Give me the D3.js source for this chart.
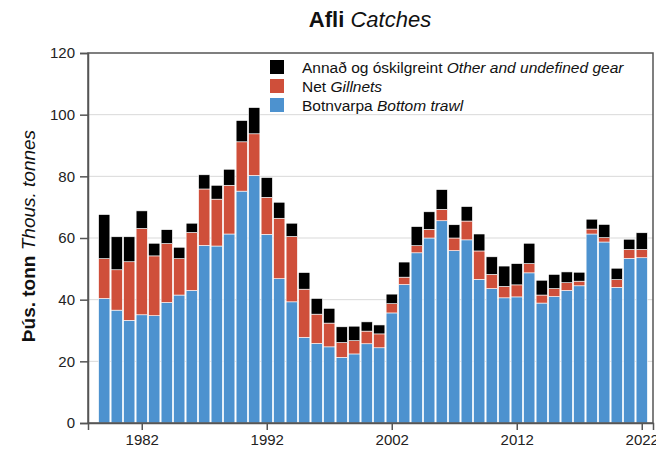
<!DOCTYPE html>
<html><head><meta charset="utf-8">
<script src="https://cdn.jsdelivr.net/npm/d3@7"></script>
<style>body{margin:0;background:#fff;font-family:"Liberation Sans",Arial,sans-serif;}</style>
</head><body><svg id="c" width="656" height="455"></svg>
<script>
const years = d3.range(1979, 2023);
const trawl = [40.4,36.6,33.3,35.1,34.8,39.1,41.5,43.0,57.6,57.4,61.3,75.2,80.3,61.2,46.8,39.3,27.8,25.8,24.7,21.3,22.4,25.7,24.4,35.7,44.9,55.2,60.0,65.6,55.9,59.4,46.6,43.6,40.6,40.9,48.7,38.9,41.0,43.0,44.5,61.3,58.7,44.0,53.4,53.6];
const gillnet = [12.9,13.1,19.0,28.0,19.4,19.1,11.8,18.8,18.3,15.2,15.8,16.0,13.5,12.0,19.6,21.2,15.6,9.5,7.7,4.8,4.3,4.1,4.5,3.0,2.4,2.3,2.8,3.7,4.1,6.1,9.2,4.6,3.7,3.9,3.0,2.6,2.6,2.5,1.5,1.6,1.4,2.5,2.9,2.7];
const other = [14.3,10.7,8.1,5.7,4.1,4.5,3.7,3.0,4.6,4.5,5.2,6.9,8.5,6.4,5.2,4.3,5.4,5.1,4.8,5.1,4.7,3.0,2.9,3.1,4.9,6.2,5.7,6.4,4.3,4.7,5.5,5.7,6.6,6.9,6.6,4.8,4.6,3.5,2.9,3.2,4.3,3.7,3.3,5.4];
const yTicks = [0,20,40,60,80,100,120];
const xTicks = [1982,1992,2002,2012,2022];
const seriesNames = [
  {key:"other", is:"Annað og óskilgreint", en:"Other and undefined gear", color:"#000000"},
  {key:"gillnet", is:"Net", en:"Gillnets", color:"#cf4f3a"},
  {key:"trawl", is:"Botnvarpa", en:"Bottom trawl", color:"#4d92cf"}
];

const svg = d3.select("#c");
const L=88, R=653, T=53, B=423;
const x = d3.scaleLinear().domain([1977.7, 2022.9]).range([L, R]);
const y = d3.scaleLinear().domain([0,120]).range([B, T]);

const rows = years.map((yr,i)=>({year:yr, trawl:trawl[i], gillnet:gillnet[i], other:other[i]}));
const stack = d3.stack().keys(["trawl","gillnet","other"])(rows);
const colorOf = {trawl:"#4d92cf", gillnet:"#cf4f3a", other:"#000000"};

// gridlines
svg.append("g").selectAll("line").data(yTicks.filter(t=>t>0&&t<120)).join("line")
  .attr("x1",L).attr("x2",R).attr("y1",d=>y(d)).attr("y2",d=>y(d))
  .attr("stroke","#d9d9d9").attr("stroke-width",1);

const bw = 12.5*0.9;
svg.append("g").selectAll("g").data(stack).join("g")
  .attr("fill",d=>colorOf[d.key])
  .selectAll("rect").data(d=>d).join("rect")
  .attr("x",d=>x(d.data.year)-bw/2).attr("width",bw)
  .attr("y",d=>y(d[1])).attr("height",d=>y(d[0])-y(d[1]))
  .attr("stroke","#fff").attr("stroke-width",0.6);

// frame
svg.append("rect").attr("x",L).attr("y",T).attr("width",R-L).attr("height",B-T)
  .attr("fill","none").attr("stroke","#555").attr("stroke-width",1.5);

// axes
const yAxis = d3.axisLeft(y).tickValues(yTicks).tickSize(8).tickPadding(5);
const gy = svg.append("g").attr("transform",`translate(${L},0)`).call(yAxis);
const xAxis = d3.axisBottom(x).tickValues(xTicks).tickFormat(d3.format("d")).tickSize(7).tickPadding(4);
const gx = svg.append("g").attr("transform",`translate(0,${B})`).call(xAxis);
[gy,gx].forEach(g=>{
  g.select(".domain").attr("stroke","#555").attr("stroke-width",1.5);
  g.selectAll(".tick line").attr("stroke","#555").attr("stroke-width",1.5);
  g.selectAll(".tick text").attr("font-size",15).attr("fill","#222").attr("font-family","Liberation Sans, Arial, sans-serif");
});

// title
const title = svg.append("text").attr("x",370).attr("y",27).attr("text-anchor","middle")
  .attr("font-size",22).attr("fill","#111");
title.append("tspan").attr("font-weight","bold").text("Afli ");
title.append("tspan").attr("font-style","italic").text("Catches");

// y label
const yl = svg.append("text").attr("transform","translate(35,236) rotate(-90)").attr("text-anchor","middle")
  .attr("font-size",19).attr("fill","#111");
yl.append("tspan").attr("font-weight","bold").text("Þús. tonn ");
yl.append("tspan").attr("font-style","italic").text("Thous. tonnes");

// legend
const lg = svg.append("g").attr("transform","translate(270,60)");
seriesNames.forEach((s,i)=>{
  const g = lg.append("g").attr("transform",`translate(0,${i*19})`);
  g.append("rect").attr("width",14).attr("height",14).attr("fill",s.color);
  const t = g.append("text").attr("x",32).attr("y",12.5).attr("font-size",15.5).attr("fill","#111");
  t.append("tspan").text(s.is+" ");
  t.append("tspan").attr("font-style","italic").text(s.en);
});
</script></body></html>
